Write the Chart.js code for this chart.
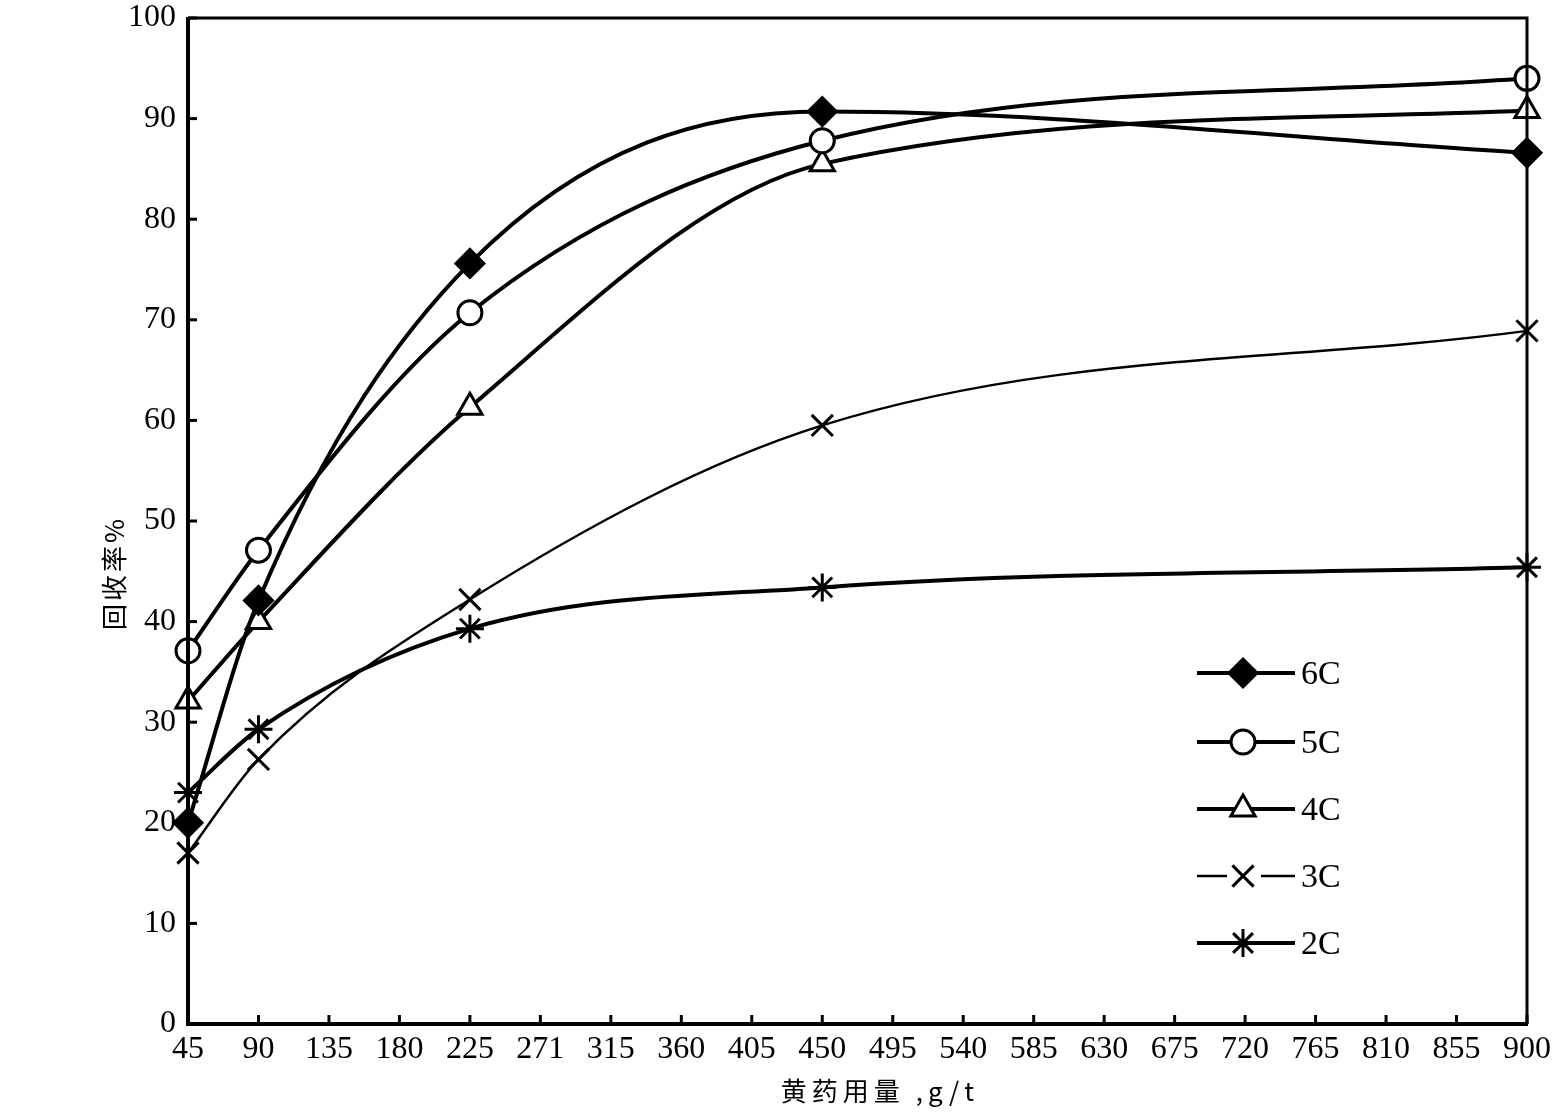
<!DOCTYPE html>
<html>
<head>
<meta charset="utf-8">
<script src="https://cdn.jsdelivr.net/npm/chart.js@4/dist/chart.umd.min.js"></script>
<style>
  html, body { margin: 0; padding: 0; background: #fff; }
  #wrap { width: 1555px; height: 1119px; position: relative; }
</style>
</head>
<body>
<div id="wrap"><canvas id="myChart"></canvas></div>
<script>
// 黄药用量 (g/t) at the measured points
const doses = [45, 90, 225, 450, 900];
// tick labels on the x axis, as printed
const tickLabels = ["45", "90", "135", "180", "225", "271", "315", "360", "405", "450",
  "495", "540", "585", "630", "675", "720", "765", "810", "855", "900"];

// 回收率 % for each series
const rec6C = [20.0, 42.1, 75.6, 90.7, 86.6];
const rec5C = [37.1, 47.1, 70.7, 87.8, 94.0];
const rec4C = [32.1, 40.0, 61.3, 85.5, 90.8];
const rec3C = [17.0, 26.3, 42.2, 59.5, 68.9];
const rec2C = [23.0, 29.3, 39.3, 43.4, 45.4];

const seriesNames = ["6C", "5C", "4C", "3C", "2C"];

const NUM_FONT = "'Liberation Serif', 'DejaVu Serif', serif";
const CJK_FONT = "'Noto Sans CJK SC', 'Noto Sans', sans-serif";

const makeSet = (label, values, style, fill, lineW, pr) => ({
  label: label,
  data: doses.map((d, i) => ({ x: d, y: values[i] })),
  borderColor: "#000",
  borderWidth: lineW,
  pointStyle: style,
  pointRadius: pr,
  pointBorderWidth: 3,
  pointBorderColor: "#000",
  pointBackgroundColor: fill,
  cubicInterpolationMode: "monotone",
  clip: false,
});

const datasets = [
  makeSet(seriesNames[0], rec6C, "rectRot", "#000", 4, 14),
  makeSet(seriesNames[1], rec5C, "circle", "#fff", 4, 12),
  makeSet(seriesNames[2], rec4C, "triangle", "#fff", 4, 14),
  makeSet(seriesNames[3], rec3C, "crossRot", "#fff", 2.5, 15),
  makeSet(seriesNames[4], rec2C, "star", "#fff", 4, 14),
];

// frame, inward ticks, axis titles, legend
const decorations = {
  id: "decorations",
  afterDraw(chart) {
    const ctx = chart.ctx;
    const a = chart.chartArea;
    const xs = chart.scales.x;
    const ys = chart.scales.y;
    ctx.save();
    ctx.strokeStyle = "#000";
    ctx.lineCap = "butt";

    // inward ticks
    ctx.lineWidth = 3;
    xs.ticks.forEach((t, i) => {
      const px = xs.getPixelForTick(i);
      ctx.beginPath();
      ctx.moveTo(px, a.bottom);
      ctx.lineTo(px, a.bottom - 9);
      ctx.stroke();
    });
    ys.ticks.forEach((t, i) => {
      const py = ys.getPixelForTick(i);
      ctx.beginPath();
      ctx.moveTo(a.left, py);
      ctx.lineTo(a.left + 9, py);
      ctx.stroke();
    });

    // frame
    ctx.lineWidth = 3;
    ctx.beginPath();
    ctx.moveTo(a.left, a.top);
    ctx.lineTo(a.right, a.top);
    ctx.lineTo(a.right, a.bottom);
    ctx.stroke();
    ctx.lineWidth = 4;
    ctx.beginPath();
    ctx.moveTo(a.left, a.top - 1);
    ctx.lineTo(a.left, a.bottom);
    ctx.lineTo(a.right + 1, a.bottom);
    ctx.stroke();

    // axis titles
    ctx.fillStyle = "#000";
    ctx.font = "26px " + CJK_FONT;
    ctx.textAlign = "center";
    ctx.textBaseline = "middle";
    if ("letterSpacing" in ctx) ctx.letterSpacing = "5px";
    ctx.fillText("黄药用量 ,g/t", 880, 1091);
    ctx.save();
    ctx.translate(114, 573);
    ctx.rotate(-Math.PI / 2);
    if ("letterSpacing" in ctx) ctx.letterSpacing = "3px";
    ctx.fillText("回收率%", 0, 0);
    ctx.restore();
    if ("letterSpacing" in ctx) ctx.letterSpacing = "0px";

    // legend
    const rowsY = [673, 742, 809, 876, 943];
    const lx0 = 1197, lx1 = 1295, mx = 1243;
    chart.data.datasets.forEach((ds, i) => {
      const y = rowsY[i];
      ctx.strokeStyle = "#000";
      ctx.lineWidth = ds.borderWidth;
      ctx.beginPath();
      if (ds.pointStyle === "crossRot") {
        ctx.moveTo(lx0, y); ctx.lineTo(mx - 16, y);
        ctx.moveTo(mx + 18, y); ctx.lineTo(lx1, y);
      } else {
        ctx.moveTo(lx0, y); ctx.lineTo(lx1, y);
      }
      ctx.stroke();
      ctx.fillStyle = ds.pointBackgroundColor;
      ctx.strokeStyle = "#000";
      ctx.lineWidth = ds.pointBorderWidth;
      if (Chart.helpers && Chart.helpers.drawPoint) {
        Chart.helpers.drawPoint(ctx, {
          pointStyle: ds.pointStyle,
          radius: ds.pointRadius,
          rotation: 0,
          borderWidth: ds.pointBorderWidth,
        }, mx, y);
      }
      ctx.fillStyle = "#000";
      ctx.font = "34px " + NUM_FONT;
      ctx.textAlign = "left";
      ctx.textBaseline = "middle";
      ctx.fillText(ds.label, 1301, y + 2);
    });

    ctx.restore();
  },
};

const ctx = document.getElementById("myChart").getContext("2d");
new Chart(ctx, {
  type: "line",
  data: { datasets: datasets },
  options: {
    responsive: true,
    maintainAspectRatio: false,
    animation: false,
    layout: { padding: { top: 14, right: 28, left: 0, bottom: 0 } },
    plugins: {
      legend: { display: false },
      tooltip: { enabled: false },
      title: { display: false },
    },
    scales: {
      x: {
        type: "linear",
        min: 45,
        max: 900,
        afterFit: (s) => { s.height = 95; s.paddingLeft = 0; s.paddingRight = 0; },
        afterBuildTicks: (s) => {
          s.ticks = tickLabels.map((t, i) => ({ value: 45 + 45 * i }));
        },
        grid: { display: false, drawTicks: false },
        border: { display: false },
        ticks: {
          autoSkip: false,
          maxRotation: 0,
          padding: 6,
          color: "#000",
          font: { family: NUM_FONT, size: 32 },
          callback: (v, i) => tickLabels[i],
        },
      },
      y: {
        min: 0,
        max: 100,
        afterFit: (s) => { s.width = 188; s.paddingTop = 0; s.paddingBottom = 0; },
        grid: { display: false, drawTicks: false },
        border: { display: false },
        ticks: {
          stepSize: 10,
          padding: 12,
          color: "#000",
          font: { family: NUM_FONT, size: 32 },
        },
      },
    },
  },
  plugins: [decorations],
});
</script>
</body>
</html>
